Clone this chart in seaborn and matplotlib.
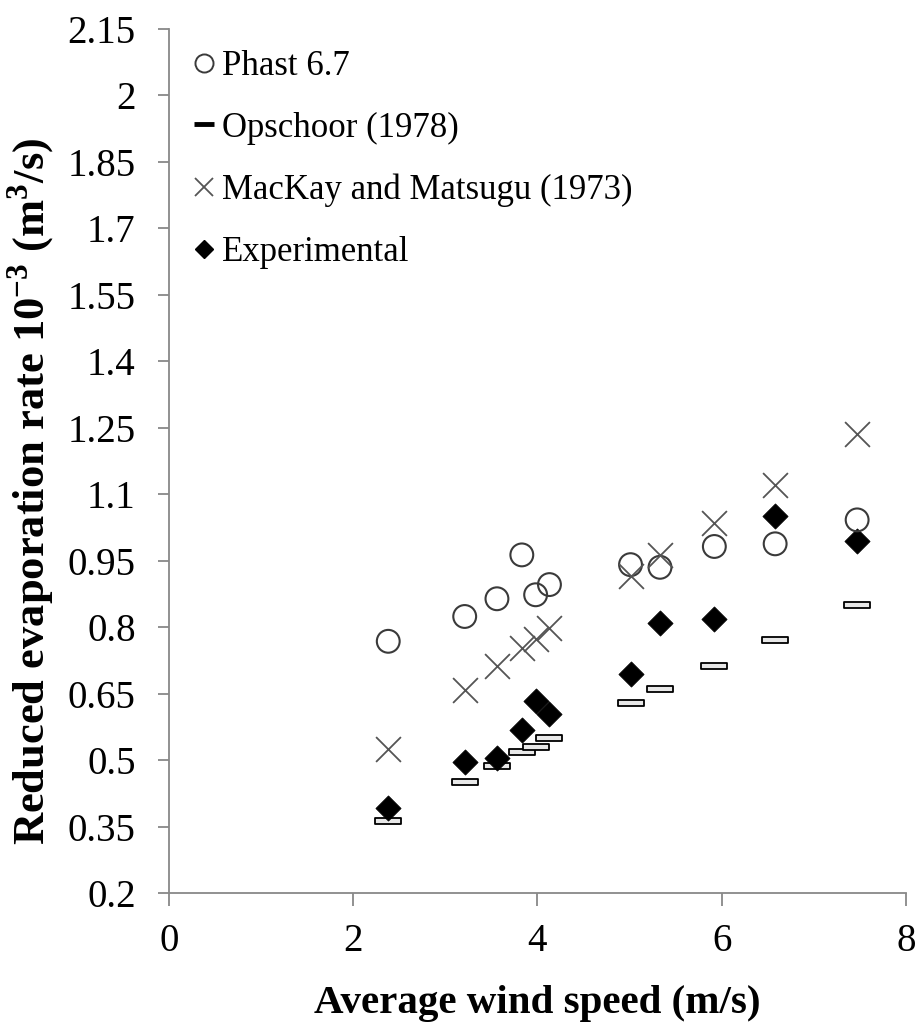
import numpy as np
import pandas as pd
import matplotlib
matplotlib.use("Agg")
import matplotlib.pyplot as plt
from matplotlib.path import Path
from matplotlib.lines import Line2D
import seaborn as sns

# Average wind speed (m/s) for each trial
wind_speed = [2.38, 3.21, 3.56, 3.83, 3.98, 4.13, 5.01, 5.33, 5.92, 6.58, 7.47]

# Reduced evaporation rate 10^-3 (m^3/s)
phast = [0.768, 0.824, 0.864, 0.963, 0.873, 0.896, 0.941, 0.935, 0.982, 0.988, 1.042]
opschoor = [0.362, 0.451, 0.486, 0.518, 0.530, 0.549, 0.628, 0.660, 0.712, 0.770, 0.850]
mackay = [0.526, 0.659, 0.712, 0.753, 0.774, 0.797, 0.915, 0.962, 1.035, 1.120, 1.235]
experimental = [0.391, 0.496, 0.504, 0.567, 0.633, 0.605, 0.694, 0.809, 0.819, 1.050, 0.994]

series_names = ["Phast 6.7", "Opschoor (1978)", "MacKay and Matsugu (1973)", "Experimental"]
y_ticks = [0.2, 0.35, 0.5, 0.65, 0.8, 0.95, 1.1, 1.25, 1.4, 1.55, 1.7, 1.85, 2, 2.15]
x_ticks = [0, 2, 4, 6, 8]

sns.set_theme(style="white")
plt.rcParams["font.family"] = ["Liberation Serif", "DejaVu Serif"]
plt.rcParams["mathtext.fontset"] = "custom"
plt.rcParams["mathtext.rm"] = "Liberation Serif"
plt.rcParams["mathtext.bf"] = "Liberation Serif:bold"
plt.rcParams["text.color"] = "black"
plt.rcParams["xtick.color"] = "black"
plt.rcParams["ytick.color"] = "black"
plt.rcParams["axes.labelcolor"] = "black"

AXIS_GREY = "#888888"

fig = plt.figure(figsize=(9.22, 10.23), dpi=100)
ax = fig.add_axes([0.1833, 0.1271, 0.7993, 0.8446])

df = pd.DataFrame({
    "speed": wind_speed,
    "phast": phast,
    "opschoor": opschoor,
    "mackay": mackay,
    "experimental": experimental,
})

# flat rectangle used for the Opschoor estimates
bar_marker = Path([(-1, -0.24), (1, -0.24), (1, 0.24), (-1, 0.24), (-1, -0.24)],
                  [Path.MOVETO, Path.LINETO, Path.LINETO, Path.LINETO, Path.CLOSEPOLY])

sns.scatterplot(data=df, x="speed", y="opschoor", marker=bar_marker, s=330,
                facecolor="#e8e8e8", edgecolor="black", linewidth=1.3, ax=ax, zorder=3)
sns.scatterplot(data=df, x="speed", y="experimental", marker="D", s=165,
                color="black", edgecolor="black", linewidth=0.5, ax=ax, zorder=4)
sns.scatterplot(data=df, x="speed", y="phast", marker="o", s=270,
                facecolor="none", edgecolor="#3a3a3a", linewidth=1.5, ax=ax, zorder=5)
sns.scatterplot(data=df, x="speed", y="mackay", marker="x", s=320,
                color="#555555", linewidth=1.3, ax=ax, zorder=5)

ax.set_xlim(0, 8)
ax.set_ylim(0.2, 2.15)
ax.set_xticks(x_ticks)
ax.set_yticks(y_ticks)
ax.set_xticklabels([f"{v:g}" for v in x_ticks])
ax.set_yticklabels([f"{v:g}" for v in y_ticks])

for side in ["top", "right"]:
    ax.spines[side].set_visible(False)
for side in ["left", "bottom"]:
    ax.spines[side].set_color(AXIS_GREY)
    ax.spines[side].set_linewidth(1.3)

ax.tick_params(axis="x", which="major", direction="out", length=9.5, width=1.3,
               color=AXIS_GREY, labelcolor="black", labelsize=28, pad=12, bottom=True)
ax.tick_params(axis="y", which="major", direction="out", length=8, width=1.3,
               color=AXIS_GREY, labelcolor="black", labelsize=28, pad=16, left=True)

ax.set_xlabel("Average wind speed (m/s)", fontsize=29.5, fontweight="bold")
ax.set_ylabel(r"Reduced evaporation rate 10$^{\mathbf{-3}}$ (m$^{\mathbf{3}}$/s)",
              fontsize=32, fontweight="bold")
ax.xaxis.set_label_coords(0.5, -0.106)
ax.yaxis.set_label_coords(-0.152, 0.465)

handles = [
    Line2D([], [], linestyle="none", marker="o", markersize=13, markerfacecolor="none",
           markeredgecolor="#3a3a3a", markeredgewidth=1.4),
    Line2D([], [], linestyle="none", marker="_", markersize=14, markeredgecolor="black",
           markeredgewidth=3.5),
    Line2D([], [], linestyle="none", marker="x", markersize=13, markeredgecolor="#555555",
           markeredgewidth=1.3),
    Line2D([], [], linestyle="none", marker="D", markersize=9.5, markerfacecolor="black",
           markeredgecolor="black"),
]
ax.legend(handles, series_names, loc="upper left", bbox_to_anchor=(0.033, 0.976),
          frameon=False, fontsize=25, handlelength=0.6, handletextpad=0.22,
          labelspacing=0.83, borderaxespad=0, borderpad=0)

fig.savefig("out.png", dpi=100, facecolor="white")
